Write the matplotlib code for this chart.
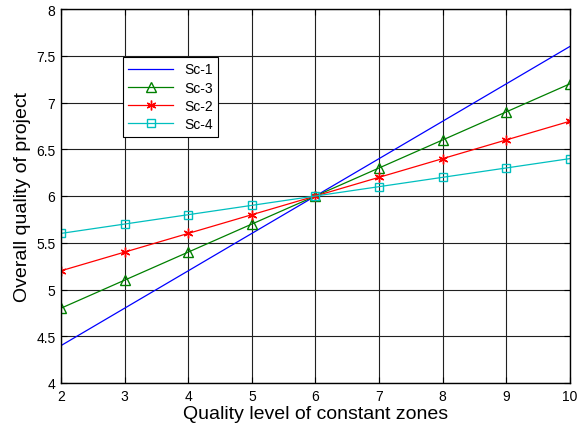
import matplotlib
matplotlib.use("Agg")
import matplotlib.pyplot as plt

x = [2, 3, 4, 5, 6, 7, 8, 9, 10]
sc1 = [4.4, 4.8, 5.2, 5.6, 6.0, 6.4, 6.8, 7.2, 7.6]
sc3 = [4.8, 5.1, 5.4, 5.7, 6.0, 6.3, 6.6, 6.9, 7.2]
sc2 = [5.2, 5.4, 5.6, 5.8, 6.0, 6.2, 6.4, 6.6, 6.8]
sc4 = [5.6, 5.7, 5.8, 5.9, 6.0, 6.1, 6.2, 6.3, 6.4]
yticks = [4, 4.5, 5, 5.5, 6, 6.5, 7, 7.5, 8]
ytick_labels = ["4", "4.5", "5", "5.5", "6", "6.5", "7", "7.5", "8"]

plt.rcParams['font.family'] = ['Liberation Sans', 'DejaVu Sans']

fig = plt.figure(figsize=(5.78, 4.27), dpi=100)
ax = fig.add_axes([61/578, 1 - 384/427, (570-61)/578, (384-10)/427])

ax.plot(x, sc1, color='blue', lw=0.9, label='Sc-1')
ax.plot(x, sc3, color='green', lw=0.9, marker='^', ms=7, mfc='none', mec='green', label='Sc-3')
ax.plot(x, sc2, color='red', lw=0.9, marker=(6, 2, 0), ms=7, mew=1.0, mec='red', label='Sc-2')
ax.plot(x, sc4, color='#00bfbf', lw=0.9, marker='s', ms=6, mfc='none', mec='#00bfbf', label='Sc-4')

ax.set_xlim(2, 10)
ax.set_ylim(4, 8)
ax.set_xticks(x)
ax.set_yticks(yticks)
ax.set_yticklabels(ytick_labels)
ax.grid(True, color='#202020', lw=0.8, ls='-')
ax.tick_params(direction='in', labelsize=10, top=True, right=True, length=4, pad=4)
for s in ax.spines.values():
    s.set_linewidth(1.0)
ax.set_xlabel('Quality level of constant zones', fontsize=14, labelpad=2)
ax.set_ylabel('Overall quality of project', fontsize=14, labelpad=4)

leg = ax.legend(loc='upper left', bbox_to_anchor=((116-61)/509, (384-51)/374),
                fancybox=False, framealpha=1, edgecolor='black', fontsize=10,
                handlelength=3.2, borderpad=0.4, labelspacing=0.3)
leg.get_frame().set_linewidth(0.8)

fig.savefig('out.png', dpi=100)
